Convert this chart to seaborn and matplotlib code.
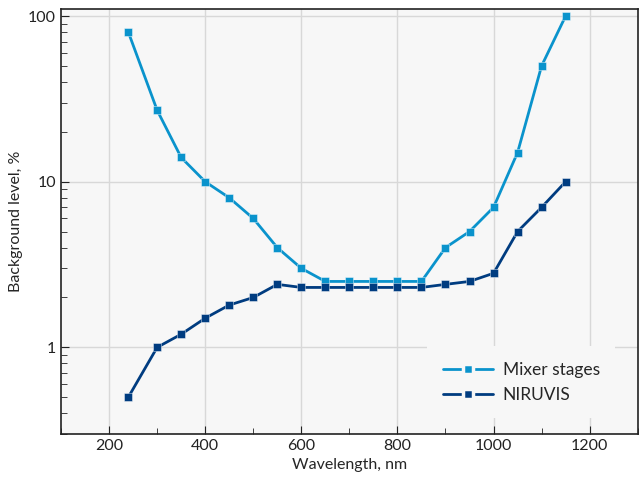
import numpy as np
import pandas as pd
import matplotlib
matplotlib.use("Agg")
import matplotlib.pyplot as plt
import seaborn as sns
from matplotlib.ticker import MultipleLocator, LogLocator, NullFormatter, FixedLocator, FixedFormatter

# values
wavelength = [240, 300, 350, 400, 450, 500, 550, 600, 650, 700, 750, 800, 850,
              900, 950, 1000, 1050, 1100, 1150]
mixer_stages = [80, 27, 14, 10, 8, 6, 4, 3, 2.5, 2.5, 2.5, 2.5, 2.5,
                4, 5, 7, 15, 50, 100]
niruvis = [0.5, 1.0, 1.2, 1.5, 1.8, 2.0, 2.4, 2.3, 2.3, 2.3, 2.3, 2.3, 2.3,
           2.4, 2.5, 2.8, 5, 7, 10]
series_names = ["Mixer stages", "NIRUVIS"]
colors = ["#0a93cc", "#003c80"]
bg = "#f7f7f7"

df = pd.DataFrame({
    "wavelength": wavelength * 2,
    "level": mixer_stages + niruvis,
    "series": [series_names[0]] * len(wavelength) + [series_names[1]] * len(wavelength),
})

sns.set_style("ticks")
plt.rcParams["font.family"] = ["Lato", "DejaVu Sans"]
plt.rcParams["font.size"] = 11

fig = plt.figure(figsize=(6.39, 4.82), dpi=100)
ax = fig.add_axes([0.0955, 0.0996, 0.9025, 0.8814])
ax.set_facecolor(bg)

sns.lineplot(data=df, x="wavelength", y="level", hue="series", palette=colors,
             marker="s", markersize=5.8, markeredgewidth=0.6, markeredgecolor="#ffffff80",
             linewidth=2, ax=ax, legend=True)

ax.set_yscale("log")
ax.set_xlim(100, 1300)
ax.set_ylim(0.3, 110)

ax.xaxis.set_major_locator(MultipleLocator(200))
ax.xaxis.set_minor_locator(MultipleLocator(100))
ax.yaxis.set_major_locator(FixedLocator([1, 10, 100]))
ax.yaxis.set_major_formatter(FixedFormatter(["1", "10", "100"]))
ax.yaxis.set_minor_locator(LogLocator(base=10, subs=np.arange(2, 10)))
ax.yaxis.set_minor_formatter(NullFormatter())

ax.grid(True, which="major", color="#d8d8d8", linewidth=1)
ax.set_axisbelow(True)
ax.tick_params(which="both", direction="in", colors="#222222", labelsize=11.5)
ax.tick_params(which="major", length=6)
ax.tick_params(which="minor", length=4)
for s in ax.spines.values():
    s.set_color("#222222")
    s.set_linewidth(1.2)

ax.set_xlabel("Wavelength, nm", fontsize=11.5)
ax.set_ylabel("Background level, %", fontsize=11.5)

handles, labels = ax.get_legend_handles_labels()
leg = ax.legend(handles, labels, loc="upper left", bbox_to_anchor=(0.635, 0.206),
                frameon=True, fancybox=False, facecolor=bg, edgecolor="none",
                framealpha=1, fontsize=12.5, handlelength=2.9, handletextpad=0.55,
                borderpad=0.9, borderaxespad=0.0)
# gap between line and marker in the legend keys
for h in leg.legend_handles:
    h.set_markeredgecolor(bg)
    h.set_markeredgewidth(2.5)
    h.set_markersize(7)

fig.savefig("out.png", dpi=100)
